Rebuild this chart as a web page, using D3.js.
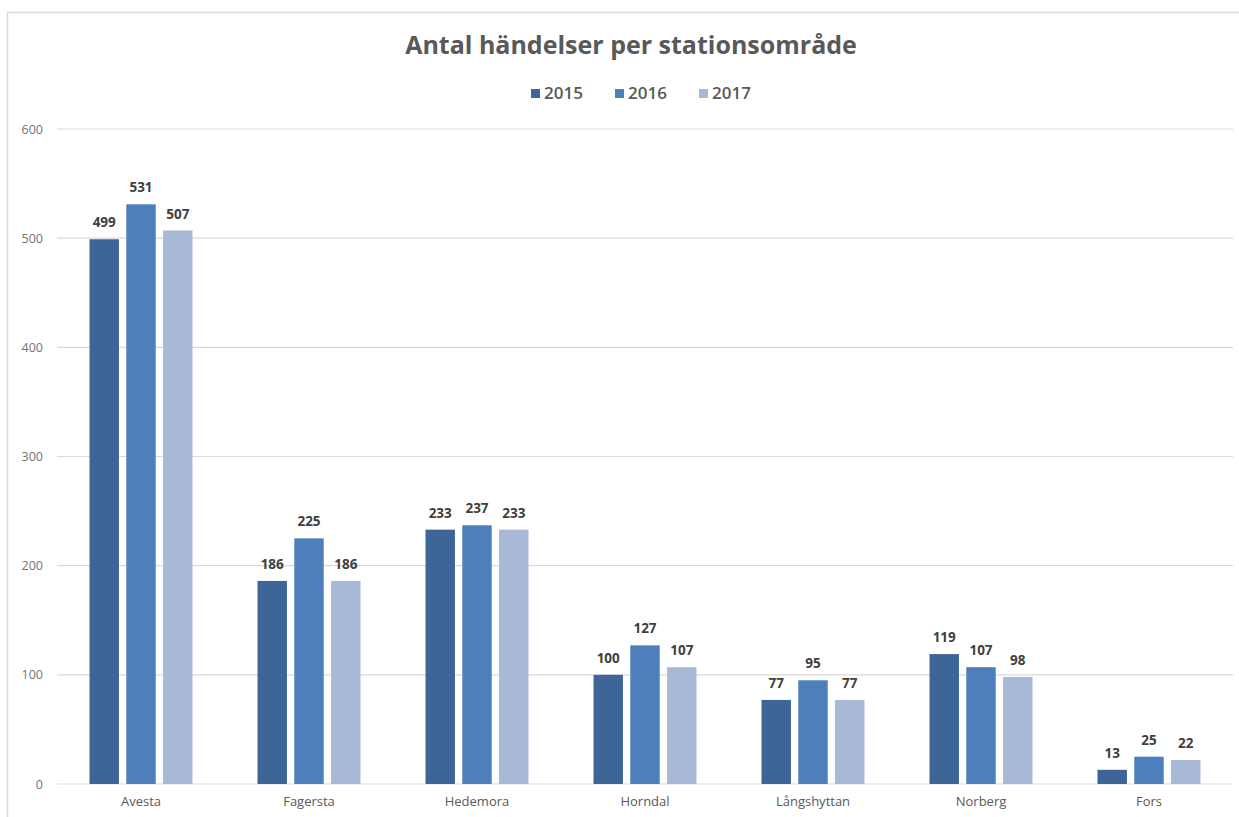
<!DOCTYPE html>
<html>
<head>
<meta charset="utf-8">
<script src="https://cdn.jsdelivr.net/npm/d3@7"></script>
<style>
	body { margin: 0; background: #fff; }
	svg { display: block; }
</style>
</head>
<body>
<script>
const categories = ["Avesta", "Fagersta", "Hedemora", "Horndal", "Långshyttan", "Norberg", "Fors"];
const years = ["2015", "2016", "2017"];
const values2015 = [499, 186, 233, 100, 77, 119, 13];
const values2016 = [531, 225, 237, 127, 95, 107, 25];
const values2017 = [507, 186, 233, 107, 77, 98, 22];
const yTicks = [0, 100, 200, 300, 400, 500, 600];
const colors = ["#3e6598", "#4d7fbd", "#a8b9d8"];

const width = 1239;
const height = 817;
const margin = { top: 129, right: 6, bottom: 33, left: 57 };
const font = "'Open Sans', sans-serif";

const series = [values2015, values2016, values2017];

const svg = d3.select("body").append("svg")
	.attr("width", width)
	.attr("height", height);

// chart frame
svg.append("rect")
	.attr("x", 7.5)
	.attr("y", 12.5)
	.attr("width", width)
	.attr("height", height)
	.attr("fill", "#fff")
	.attr("stroke", "#d9d9d9")
	.attr("stroke-width", 1.5);

const x0 = d3.scaleBand()
	.domain(categories)
	.range([margin.left, width - margin.right]);

const groupWidth = 103;
const x1 = d3.scaleBand()
	.domain(years)
	.range([0, groupWidth])
	.paddingInner(0.2);

const y = d3.scaleLinear()
	.domain([0, 600])
	.range([height - margin.bottom, margin.top]);

// gridlines
svg.append("g")
	.selectAll("line")
	.data(yTicks)
	.enter()
	.append("line")
	.attr("x1", margin.left)
	.attr("x2", width - margin.right)
	.attr("y1", (d) => y(d))
	.attr("y2", (d) => y(d))
	.attr("stroke", "#d9d9d9")
	.attr("stroke-width", 1.2);

// y axis labels
const yAxis = svg.append("g")
	.attr("transform", "translate(" + (margin.left - 14) + ",0)")
	.call(d3.axisLeft(y).tickValues(yTicks).tickSize(0).tickPadding(0));
yAxis.select(".domain").remove();
yAxis.selectAll("text")
	.style("font-family", font)
	.style("font-size", "12.5px")
	.style("fill", "#737373");

// x axis labels
const xAxis = svg.append("g")
	.attr("transform", "translate(0," + (height - margin.bottom) + ")")
	.call(d3.axisBottom(x0).tickSize(0).tickPadding(13));
xAxis.select(".domain").remove();
xAxis.selectAll("text")
	.style("font-family", font)
	.style("font-size", "13px")
	.style("fill", "#595959");

// bars
const groups = svg.append("g")
	.selectAll("g")
	.data(categories)
	.enter()
	.append("g")
	.attr("transform", (d) => "translate(" + (x0(d) + (x0.bandwidth() - groupWidth) / 2) + ",0)");

groups.selectAll("rect")
	.data((d, i) => years.map((yr, j) => ({ year: yr, value: series[j][i], color: colors[j] })))
	.enter()
	.append("rect")
	.attr("x", (d) => x1(d.year))
	.attr("y", (d) => y(d.value))
	.attr("width", x1.bandwidth())
	.attr("height", (d) => y(0) - y(d.value))
	.attr("fill", (d) => d.color);

groups.selectAll("text")
	.data((d, i) => years.map((yr, j) => ({ year: yr, value: series[j][i] })))
	.enter()
	.append("text")
	.attr("x", (d) => x1(d.year) + x1.bandwidth() / 2)
	.attr("y", (d) => y(d.value) - 12)
	.attr("text-anchor", "middle")
	.style("font-family", font)
	.style("font-size", "13.5px")
	.style("font-weight", "bold")
	.style("fill", "#404040")
	.text((d) => d.value);

// title
svg.append("text")
	.attr("x", 631)
	.attr("y", 54)
	.attr("text-anchor", "middle")
	.style("font-family", font)
	.style("font-size", "25px")
	.style("font-weight", "bold")
	.style("fill", "#595959")
	.text("Antal händelser per stationsområde");

// legend
const legendX = [531, 615, 699];
const legend = svg.append("g")
	.selectAll("g")
	.data(years)
	.enter()
	.append("g")
	.attr("transform", (d, i) => "translate(" + legendX[i] + ",89)");
legend.append("rect")
	.attr("width", 9)
	.attr("height", 9)
	.attr("fill", (d, i) => colors[i]);
legend.append("text")
	.attr("x", 13)
	.attr("y", 10)
	.style("font-family", font)
	.style("font-size", "17px")
	.style("font-weight", "600")
	.style("fill", "#595959")
	.text((d) => d);
</script>
</body>
</html>
